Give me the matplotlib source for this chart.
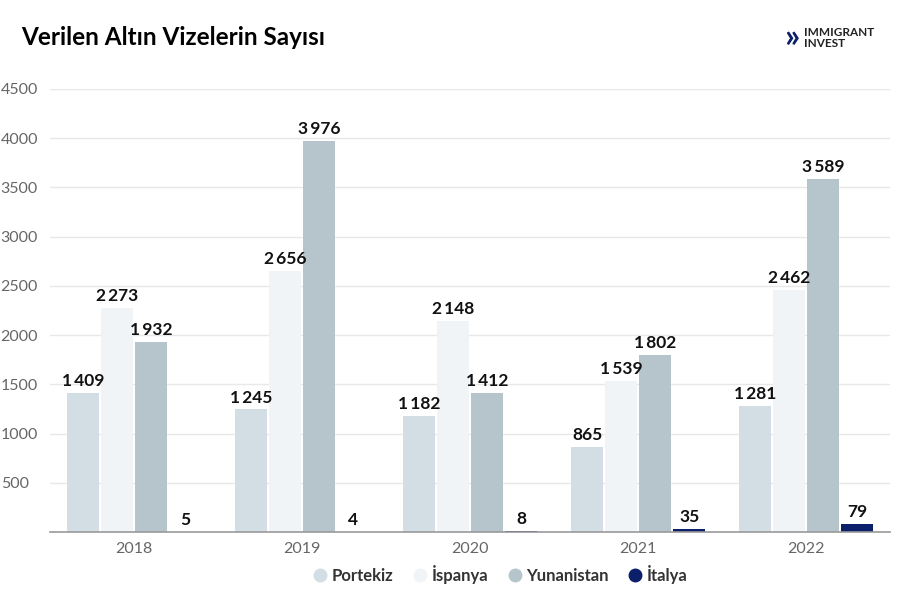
import matplotlib
matplotlib.use('Agg')
import matplotlib.pyplot as plt
import numpy as np

years = ['2018', '2019', '2020', '2021', '2022']
portekiz = [1409, 1245, 1182, 865, 1281]
ispanya = [2273, 2656, 2148, 1539, 2462]
yunanistan = [1932, 3976, 1412, 1802, 3589]
italya = [5, 4, 8, 35, 79]

series = [('Portekiz', portekiz, '#d3dde4'),
          ('İspanya', ispanya, '#f0f4f7'),
          ('Yunanistan', yunanistan, '#b6c4cb'),
          ('İtalya', italya, '#0b1f6b')]

plt.rcParams['font.family'] = ['Lato', 'DejaVu Sans']

fig = plt.figure(figsize=(9, 6), dpi=100)
ax = fig.add_axes([0.0556, 0.1133, 0.9334, 0.7384])

x = np.arange(len(years))
w = 0.19
step = 0.2024
for i, (name, vals, col) in enumerate(series):
    pos = x + (i - 1.5) * step
    ax.bar(pos, vals, width=w, color=col, label=name, zorder=2)
    for p, v in zip(pos, vals):
        txt = f'{v:,}'.replace(',', '\u2009')
        ax.text(p, v + 40, txt, ha='center', va='bottom', fontsize=12.5,
                fontweight='bold', color='#111111', zorder=3)

ax.set_xlim(-0.5, 4.5)
ax.set_ylim(0, 4500)
ax.set_yticks([500, 1000, 1500, 2000, 2500, 3000, 3500, 4000, 4500])
ax.set_xticks(x)
ax.set_xticklabels(years)
ax.grid(axis='y', color='#e8e8e8', linewidth=1, zorder=0)
ax.tick_params(axis='both', length=0, labelsize=11.5, labelcolor='#666666')
ax.tick_params(axis='x', pad=7)
for s in ['top', 'right', 'left']:
    ax.spines[s].set_visible(False)
ax.spines['bottom'].set_color('#999999')
ax.spines['bottom'].set_linewidth(1.2)
for lab in ax.get_yticklabels():
    lab.set_horizontalalignment('left')
    lab.set_x(-0.053)

fig.text(0.024, 0.937, 'Verilen Altın Vizelerin Sayısı', fontsize=17.5,
         fontweight='bold', color='#000000', va='center')

# logo
fig.text(0.88, 0.937, '»', fontsize=24, fontweight='bold', color='#0b1f6b',
         ha='center', va='center')
fig.text(0.893, 0.937, 'IMMIGRANT\nINVEST', fontsize=8.5, fontweight='bold',
         color='#222222', va='center', linespacing=0.95)

handles = [plt.Line2D([], [], marker='o', linestyle='', markersize=9,
                      color=c) for _, _, c in series]
leg = fig.legend(handles, [s[0] for s in series], loc='center',
                 bbox_to_anchor=(0.555, 0.042), ncol=4, frameon=False,
                 handlelength=1.0, handletextpad=0.2, columnspacing=1.1,
                 prop={'weight': 'bold', 'size': 12})
for t in leg.get_texts():
    t.set_color('#333333')

fig.savefig('out.png', dpi=100)
